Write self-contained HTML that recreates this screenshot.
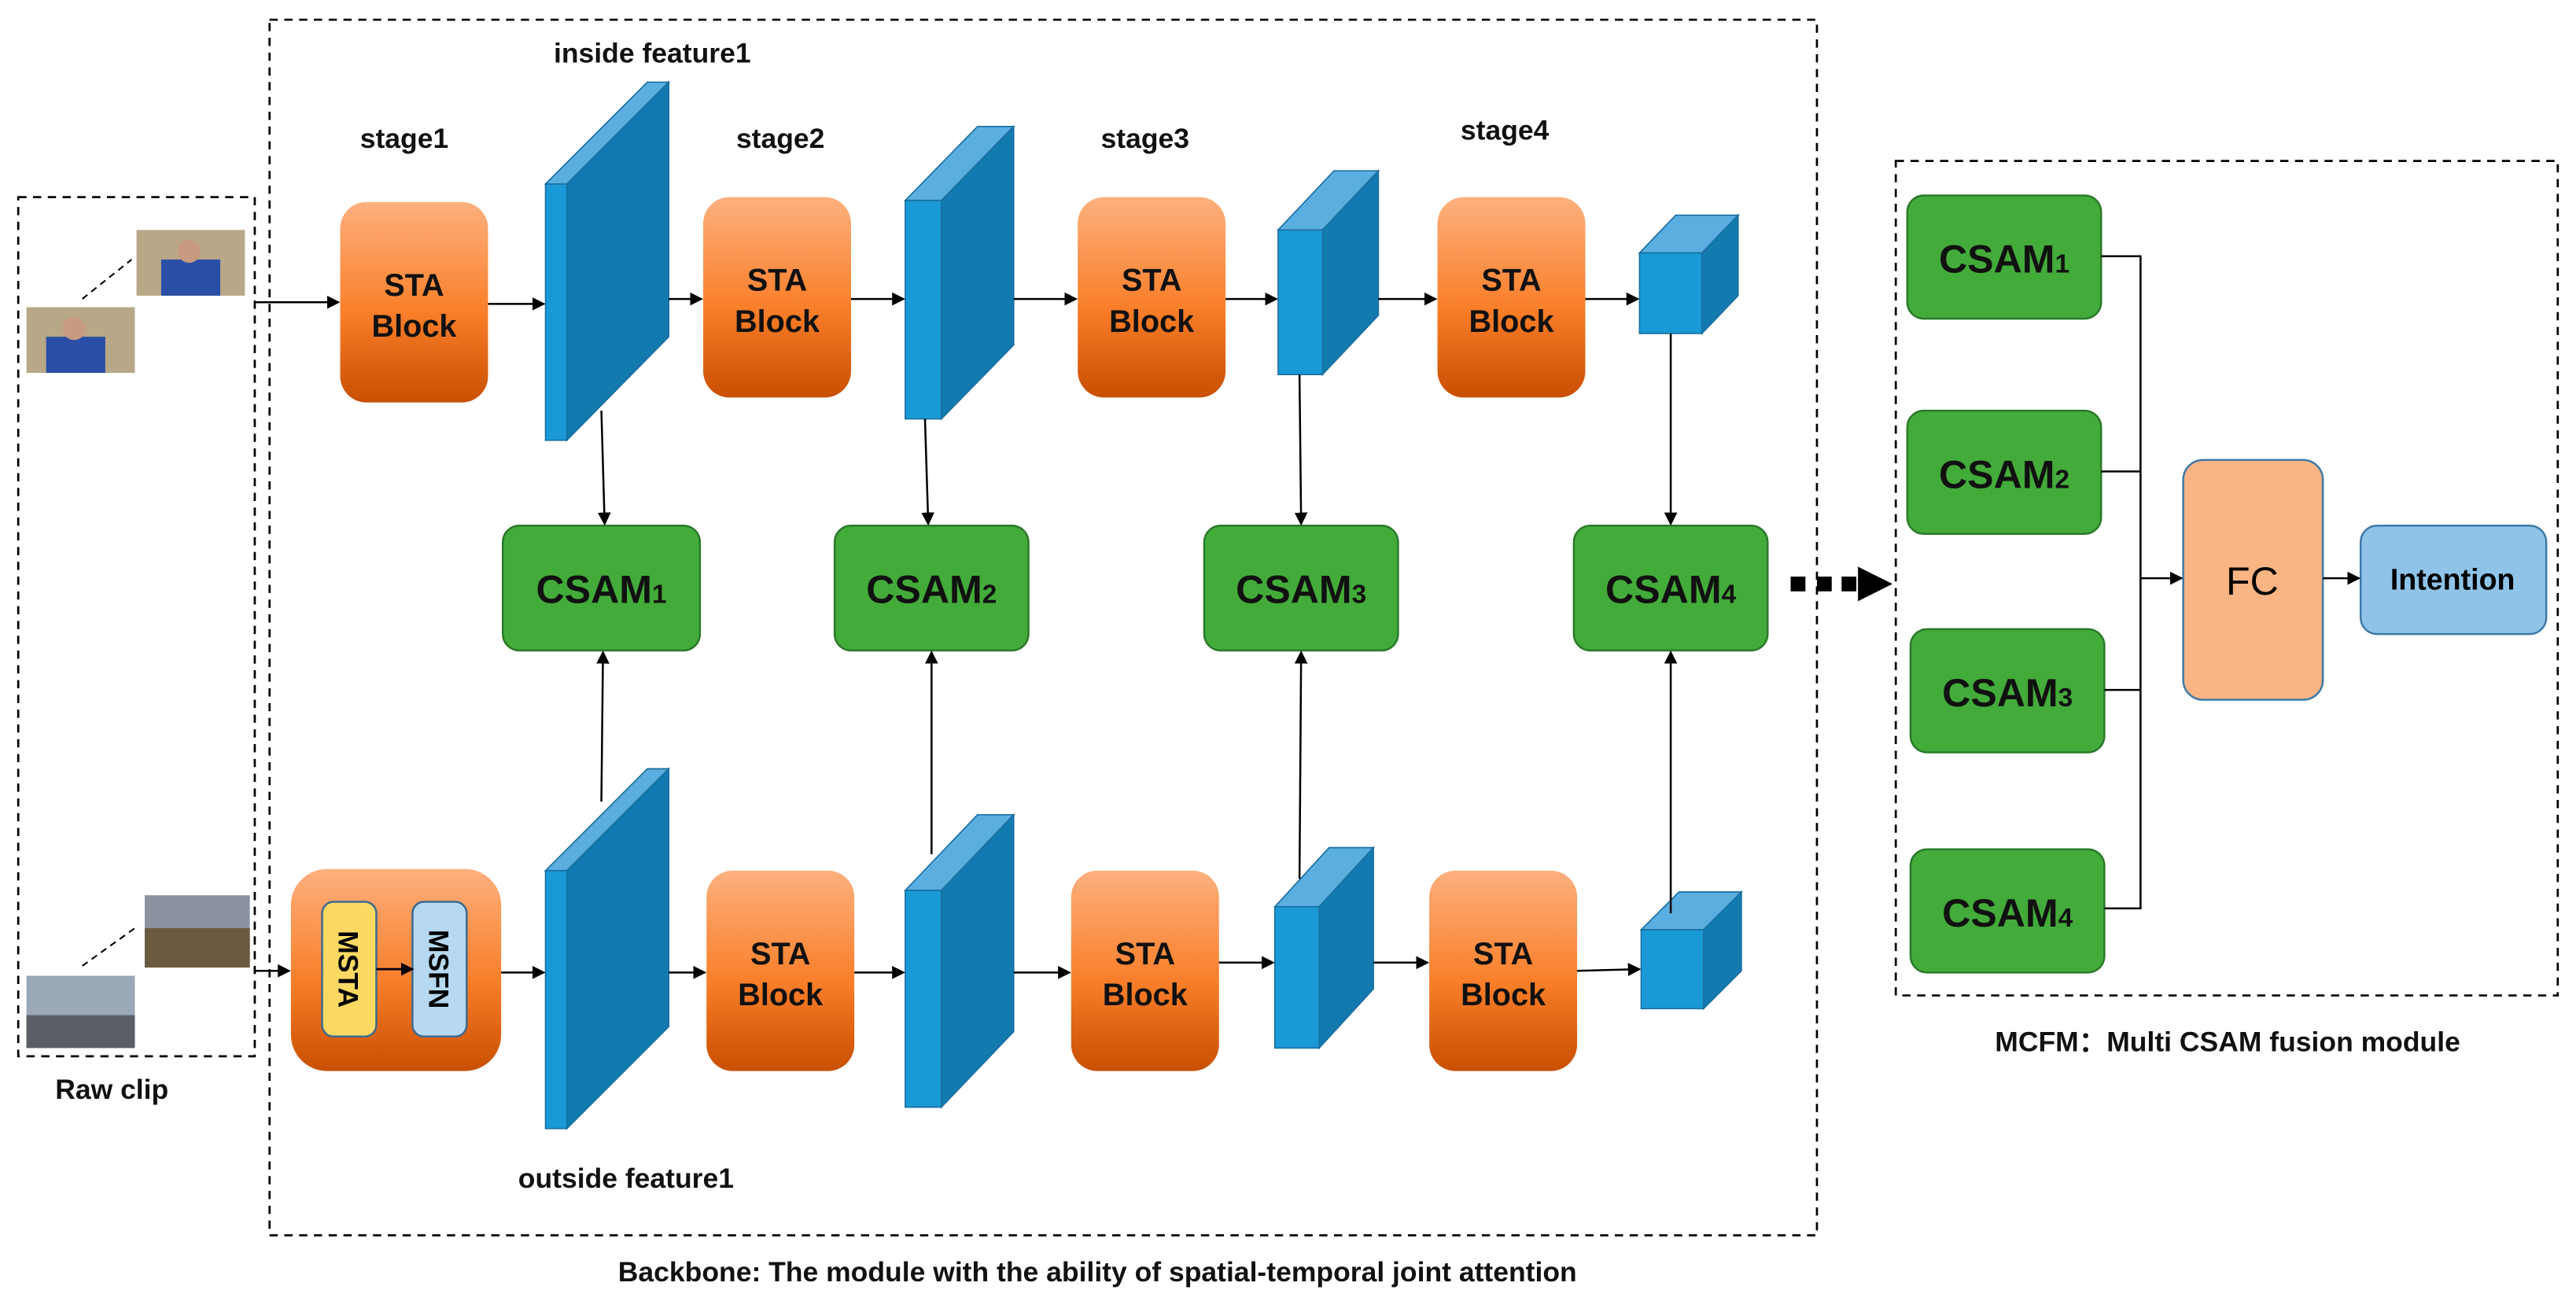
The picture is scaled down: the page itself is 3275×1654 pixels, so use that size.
<!DOCTYPE html>
<html><head><meta charset="utf-8"><style>html,body{margin:0;padding:0;background:#fff}svg{display:block}</style></head><body>
<svg width="3275" height="1654" viewBox="0 0 1568 792" xmlns="http://www.w3.org/2000/svg" font-family="Liberation Sans, sans-serif">
<defs>
<linearGradient id="og" x1="0" y1="0" x2="0" y2="1"><stop offset="0" stop-color="#fdb07e"/><stop offset="0.55" stop-color="#f97f2a"/><stop offset="1" stop-color="#c94f02"/></linearGradient>
<marker id="ar" markerWidth="8" markerHeight="8" refX="7" refY="4" orient="auto" markerUnits="userSpaceOnUse"><path d="M0,0 L8,4 L0,8 z" fill="#000"/></marker>
</defs>
<g fill="none" stroke="#000" stroke-width="1.3" stroke-dasharray="5,4">
<rect x="11" y="120" width="144" height="523"/>
<rect x="164" y="12" width="942" height="740"/>
<rect x="1154" y="98" width="403" height="508"/>
</g>
<!-- photos -->
<rect x="83" y="140" width="66" height="40" fill="#b8a888"/><rect x="98" y="158" width="36" height="22" fill="#2b4fa6"/><circle cx="115" cy="153" r="7" fill="#c89a80"/>
<rect x="16" y="187" width="66" height="40" fill="#b8a888"/><rect x="28" y="205" width="36" height="22" fill="#2b4fa6"/><circle cx="45" cy="200" r="7" fill="#c89a80"/>
<line x1="50" y1="182" x2="80" y2="158" stroke="#000" stroke-dasharray="4,3"/>
<rect x="88" y="545" width="64" height="44" fill="#8b93a0"/><rect x="88" y="565" width="64" height="24" fill="#6b5a3f"/>
<rect x="16" y="594" width="66" height="44" fill="#9aa8b8"/><rect x="16" y="618" width="66" height="20" fill="#5a5f66"/>
<line x1="50" y1="588" x2="82" y2="565" stroke="#000" stroke-dasharray="4,3"/>
<!-- STA blocks -->
<g fill="url(#og)">
<rect x="207" y="123" width="90" height="122" rx="16"/>
<rect x="428" y="120" width="90" height="122" rx="16"/>
<rect x="656" y="120" width="90" height="122" rx="16"/>
<rect x="875" y="120" width="90" height="122" rx="16"/>
<rect x="177" y="529" width="128" height="123" rx="22"/>
<rect x="430" y="530" width="90" height="122" rx="16"/>
<rect x="652" y="530" width="90" height="122" rx="16"/>
<rect x="870" y="530" width="90" height="122" rx="16"/>
</g>
<g font-size="19" font-weight="bold" text-anchor="middle" fill="#111">
<text x="252" y="180">STA</text><text x="252" y="205">Block</text>
<text x="473" y="177">STA</text><text x="473" y="202">Block</text>
<text x="701" y="177">STA</text><text x="701" y="202">Block</text>
<text x="920" y="177">STA</text><text x="920" y="202">Block</text>
<text x="475" y="587">STA</text><text x="475" y="612">Block</text>
<text x="697" y="587">STA</text><text x="697" y="612">Block</text>
<text x="915" y="587">STA</text><text x="915" y="612">Block</text>
</g>
<rect x="196" y="549" width="33" height="82" rx="7" fill="#fdd964" stroke="#3d6a8f" stroke-width="1.2"/>
<rect x="251" y="549" width="33" height="82" rx="7" fill="#b6d8f0" stroke="#3d6a8f" stroke-width="1.2"/>
<text transform="translate(206,590) rotate(90)" text-anchor="middle" font-size="17" font-weight="bold">MSTA</text>
<text transform="translate(261,590) rotate(90)" text-anchor="middle" font-size="17" font-weight="bold">MSFN</text>
<line x1="229" y1="590" x2="251" y2="590" stroke="#000" stroke-width="1.3" marker-end="url(#ar)"/>
<!-- cuboids -->
<g stroke="#1a6fa0" stroke-width="0.8">
<g><polygon points="332,112 394,50 407,50 345,112" fill="#5aafe0"/><polygon points="345,112 407,50 407,205 345,268" fill="#137ab0"/><rect x="332" y="112" width="13" height="156" fill="#199ad6"/></g>
<g><polygon points="551,122 595,77 617,77 573,122" fill="#5aafe0"/><polygon points="573,122 617,77 617,210 573,255" fill="#137ab0"/><rect x="551" y="122" width="22" height="133" fill="#199ad6"/></g>
<g><polygon points="778,140 812,104 839,104 805,140" fill="#5aafe0"/><polygon points="805,140 839,104 839,192 805,228" fill="#137ab0"/><rect x="778" y="140" width="27" height="88" fill="#199ad6"/></g>
<g><polygon points="998,154 1020,131 1058,131 1036,154" fill="#5aafe0"/><polygon points="1036,154 1058,131 1058,180 1036,203" fill="#137ab0"/><rect x="998" y="154" width="38" height="49" fill="#199ad6"/></g>
<g><polygon points="332,530 394,468 407,468 345,530" fill="#5aafe0"/><polygon points="345,530 407,468 407,625 345,687" fill="#137ab0"/><rect x="332" y="530" width="13" height="157" fill="#199ad6"/></g>
<g><polygon points="551,542 595,496 617,496 573,542" fill="#5aafe0"/><polygon points="573,542 617,496 617,628 573,674" fill="#137ab0"/><rect x="551" y="542" width="22" height="132" fill="#199ad6"/></g>
<g><polygon points="776,552 809,516 836,516 803,552" fill="#5aafe0"/><polygon points="803,552 836,516 836,602 803,638" fill="#137ab0"/><rect x="776" y="552" width="27" height="86" fill="#199ad6"/></g>
<g><polygon points="999,566 1022,543 1060,543 1037,566" fill="#5aafe0"/><polygon points="1037,566 1060,543 1060,591 1037,614" fill="#137ab0"/><rect x="999" y="566" width="38" height="48" fill="#199ad6"/></g>
</g>
<!-- CSAM -->
<g fill="#43ab3a" stroke="#2a7a2a" stroke-width="1.2">
<rect x="306" y="320" width="120" height="76" rx="10"/><rect x="508" y="320" width="118" height="76" rx="10"/>
<rect x="733" y="320" width="118" height="76" rx="10"/><rect x="958" y="320" width="118" height="76" rx="10"/>
<rect x="1161" y="119" width="118" height="75" rx="10"/><rect x="1161" y="250" width="118" height="75" rx="10"/>
<rect x="1163" y="383" width="118" height="75" rx="10"/><rect x="1163" y="517" width="118" height="75" rx="10"/>
</g>
<g font-size="24" font-weight="bold" fill="#111" text-anchor="middle">
<text x="366" y="367">CSAM<tspan font-size="16">1</tspan></text>
<text x="567" y="367">CSAM<tspan font-size="16">2</tspan></text>
<text x="792" y="367">CSAM<tspan font-size="16">3</tspan></text>
<text x="1017" y="367">CSAM<tspan font-size="16">4</tspan></text>
<text x="1220" y="166">CSAM<tspan font-size="16">1</tspan></text>
<text x="1220" y="297">CSAM<tspan font-size="16">2</tspan></text>
<text x="1222" y="430">CSAM<tspan font-size="16">3</tspan></text>
<text x="1222" y="564">CSAM<tspan font-size="16">4</tspan></text>
</g>
<rect x="1329" y="280" width="85" height="146" rx="12" fill="#fbb484" stroke="#3d7aa8" stroke-width="1.2"/>
<text x="1371" y="362" font-size="24" text-anchor="middle">FC</text>
<rect x="1437" y="320" width="113" height="66" rx="10" fill="#8fc3e8" stroke="#3d7aa8" stroke-width="1.2"/>
<text x="1493" y="359" font-size="18" font-weight="bold" text-anchor="middle">Intention</text>
<!-- arrows -->
<g stroke="#000" stroke-width="1.2" fill="none" marker-end="url(#ar)">
<line x1="155" y1="184" x2="206" y2="184"/>
<line x1="297" y1="185" x2="331" y2="185"/>
<line x1="407" y1="182" x2="427" y2="182"/>
<line x1="518" y1="182" x2="550" y2="182"/>
<line x1="617" y1="182" x2="655" y2="182"/>
<line x1="746" y1="182" x2="777" y2="182"/>
<line x1="839" y1="182" x2="874" y2="182"/>
<line x1="965" y1="182" x2="997" y2="182"/>
<line x1="155" y1="591" x2="176" y2="591"/>
<line x1="305" y1="592" x2="331" y2="592"/>
<line x1="407" y1="592" x2="429" y2="592"/>
<line x1="520" y1="592" x2="550" y2="592"/>
<line x1="617" y1="592" x2="651" y2="592"/>
<line x1="742" y1="586" x2="775" y2="586"/>
<line x1="836" y1="586" x2="869" y2="586"/>
<line x1="960" y1="591" x2="998" y2="590"/>
<line x1="366" y1="250" x2="368" y2="319"/>
<line x1="563" y1="255" x2="565" y2="319"/>
<line x1="791" y1="228" x2="792" y2="319"/>
<line x1="1017" y1="203" x2="1017" y2="319"/>
<line x1="366" y1="488" x2="367" y2="397"/>
<line x1="567" y1="520" x2="567" y2="397"/>
<line x1="791" y1="535" x2="792" y2="397"/>
<line x1="1017" y1="556" x2="1017" y2="397"/>
<line x1="1303" y1="352" x2="1328" y2="352"/>
<line x1="1414" y1="352" x2="1436" y2="352"/>
</g>
<g stroke="#000" stroke-width="1.2" fill="none">
<polyline points="1279,156 1303,156 1303,553 1281,553"/>
<line x1="1279" y1="287" x2="1303" y2="287"/>
<line x1="1281" y1="420" x2="1303" y2="420"/>
</g>
<g fill="#000"><rect x="1090" y="351" width="9" height="9"/><rect x="1106" y="351" width="9" height="9"/><rect x="1121" y="351" width="9" height="9"/><path d="M1131,345 L1152,355.5 L1131,366 z"/></g>
<!-- labels -->
<g font-size="17" font-weight="bold" fill="#111" text-anchor="middle">
<text x="246" y="90">stage1</text><text x="475" y="90">stage2</text><text x="697" y="90">stage3</text><text x="916" y="85">stage4</text>
<text x="397" y="38">inside feature1</text>
<text x="381" y="723">outside feature1</text>
<text x="68" y="669">Raw clip</text>
<text x="668" y="780">Backbone: The module with the ability of spatial-temporal joint attention</text>
<text x="1356" y="640">MCFM：Multi CSAM fusion module</text>
</g>
</svg>
</body></html>
